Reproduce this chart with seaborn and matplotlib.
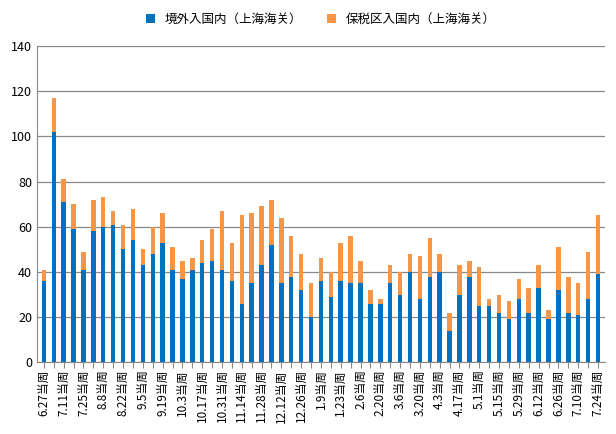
import matplotlib
matplotlib.use("Agg")
import matplotlib.pyplot as plt
from matplotlib import font_manager as fm
import seaborn as sns
import pandas as pd

weeks = ["6.27","7.4","7.11","7.18","7.25","8.1","8.8","8.15","8.22","8.29","9.5","9.12","9.19","9.26",
         "10.3","10.10","10.17","10.24","10.31","11.7","11.14","11.21","11.28","12.5","12.12","12.19","12.26",
         "1.2","1.9","1.16","1.23","1.30","2.6","2.13","2.20","2.27","3.6","3.13","3.20","3.27","4.3","4.10",
         "4.17","4.24","5.1","5.8","5.15","5.22","5.29","6.5","6.12","6.19","6.26","7.3","7.10","7.17","7.24"]
overseas = [36,102,71,59,41,58,60,61,50,54,43,48,53,41,37,41,44,45,41,36,26,35,43,52,35,38,32,20,36,29,36,35,35,26,26,35,30,40,28,38,40,14,30,38,25,25,22,19,28,22,33,19,32,22,21,28,39]
bonded = [5,15,10,11,8,14,13,6,11,14,7,12,13,10,8,5,10,14,26,17,39,31,26,20,29,18,16,15,10,11,17,21,10,6,2,8,10,8,19,17,8,8,13,7,17,3,8,8,9,11,10,4,19,16,14,21,26]

labels = [w + "当周" for w in weeks]
df = pd.DataFrame({"week": labels, "a": overseas, "total": [a + b for a, b in zip(overseas, bonded)]})

names = sorted({f.name for f in fm.fontManager.ttflist})
cands = [n for n in names if "Sans" in n and "CJK" in n]
cjk = next((n for n in cands if "SC" in n), cands[0] if cands else None)
if cjk is None:
    for p in fm.findSystemFonts():
        if "SansCJK" in p or "Sans CJK" in p:
            fm.fontManager.addfont(p)
            cjk = fm.FontProperties(fname=p).get_name()
            break
plt.rcParams["font.family"] = [cjk or "Noto Sans CJK SC", "DejaVu Sans"]

fig, ax = plt.subplots(figsize=(6.16, 4.34), dpi=100)
blue, orange = "#0070C0", "#F79646"
sns.barplot(data=df, x="week", y="total", color=orange, saturation=1, width=0.45, ax=ax, label="保税区入国内（上海海关）")
sns.barplot(data=df, x="week", y="a", color=blue, saturation=1, width=0.45, ax=ax, label="境外入国内（上海海关）")
ax.set_ylim(0, 140)
ax.set_yticks(range(0, 141, 20))
ax.set_xlim(-0.7, len(weeks) - 0.3)
ax.set_xticks(range(len(weeks)))
ax.set_xticklabels([l if i % 2 == 0 else "" for i, l in enumerate(labels)], rotation=90, fontsize=8.5)
ax.tick_params(axis="y", labelsize=9, length=0)
ax.tick_params(axis="x", length=4, color="#888888", pad=1)
ax.yaxis.grid(True, color="#888888", linewidth=0.9)
ax.set_axisbelow(True)
ax.set_xlabel(""); ax.set_ylabel("")
for s in ["top", "right"]:
    ax.spines[s].set_visible(False)
ax.spines["left"].set_color("#888888")
ax.spines["bottom"].set_color("#888888")
h, l = ax.get_legend_handles_labels()
ax.legend(h[::-1], l[::-1], loc="upper center", bbox_to_anchor=(0.5, 1.14), ncol=2, frameon=False,
          fontsize=9, handlelength=0.7, handleheight=0.7, columnspacing=2)
fig.subplots_adjust(left=0.06, right=0.982, top=0.894, bottom=0.165)
fig.savefig("out.png", dpi=100)
